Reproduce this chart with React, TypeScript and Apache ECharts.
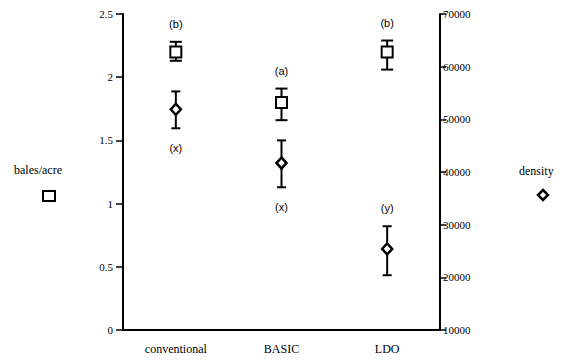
import React, { useEffect, useRef } from "react";
import * as echarts from "echarts";

const categories = ["conventional", "BASIC", "LDO"];
const yieldMean = [2.2, 1.8, 2.2];
const yieldLow = [2.13, 1.66, 2.06];
const yieldHigh = [2.28, 1.91, 2.29];
const yieldLetters = ["(b)", "(a)", "(b)"];
const densityMean = [51900, 41700, 25400];
const densityLow = [48300, 37100, 20400];
const densityHigh = [55300, 46000, 29700];
const densityLetters = ["(x)", "(x)", "(y)"];
const densityLetterAbove = [false, false, true];
const leftTicks = [0, 0.5, 1, 1.5, 2, 2.5];
const rightTicks = [10000, 20000, 30000, 40000, 50000, 60000, 70000];

const SERIF = "'Liberation Serif', 'Times New Roman', serif";
const SANS = "'Liberation Sans', Arial, sans-serif";

function errorBarSeries(low: number[], high: number[], letters: string[], above: boolean[], yAxisIndex: number, cap: number) {
  return {
    type: "custom",
    yAxisIndex,
    z: 2,
    data: low.map((l, i) => [i, l, high[i], i]),
    renderItem: (params: any, api: any) => {
      const i = api.value(3);
      const lo = api.coord([api.value(0), api.value(1)]);
      const hi = api.coord([api.value(0), api.value(2)]);
      const x = lo[0];
      const style = { stroke: "#000", lineWidth: 2 };
      const letterY = above[i] ? hi[1] - 18 : lo[1] + 20;
      return {
        type: "group",
        children: [
          { type: "line", shape: { x1: x, y1: lo[1], x2: x, y2: hi[1] }, style },
          { type: "line", shape: { x1: x - cap / 2, y1: lo[1], x2: x + cap / 2, y2: lo[1] }, style },
          { type: "line", shape: { x1: x - cap / 2, y1: hi[1], x2: x + cap / 2, y2: hi[1] }, style },
          {
            type: "text",
            x,
            y: letterY,
            style: { text: letters[i], fill: "#000", font: `11px ${SANS}`, align: "center", verticalAlign: "middle" },
          },
        ],
      };
    },
  };
}

export default function App() {
  const ref = useRef<HTMLDivElement>(null);
  useEffect(() => {
    if (!ref.current) return;
    const chart = echarts.init(ref.current, null, { renderer: "svg" });
    chart.setOption({
      animation: false,
      backgroundColor: "#fff",
      grid: { left: 123, right: 134, top: 14, bottom: 34 },
      xAxis: {
        type: "category",
        data: categories,
        boundaryGap: true,
        axisLine: { lineStyle: { color: "#000", width: 2 } },
        axisTick: { alignWithLabel: true, length: 5, lineStyle: { color: "#000", width: 1.5 } },
        axisLabel: { color: "#000", fontFamily: SERIF, fontSize: 12, margin: 13 },
      },
      yAxis: [
        {
          type: "value",
          min: 0,
          max: 2.5,
          interval: 0.5,
          position: "left",
          splitLine: { show: false },
          axisLine: { show: true, lineStyle: { color: "#000", width: 2 } },
          axisTick: { show: true, length: 7, lineStyle: { color: "#000", width: 1.5 } },
          axisLabel: {
            color: "#000",
            fontFamily: SERIF,
            fontSize: 11,
            margin: 10,
            formatter: (v: number) => (leftTicks.includes(v) ? String(v) : ""),
          },
        },
        {
          type: "value",
          min: 10000,
          max: 70000,
          interval: 10000,
          position: "right",
          splitLine: { show: false },
          axisLine: { show: true, lineStyle: { color: "#000", width: 2 } },
          axisTick: { show: true, length: 6, lineStyle: { color: "#000", width: 1.5 } },
          axisLabel: {
            color: "#000",
            fontFamily: SERIF,
            fontSize: 11,
            margin: 3,
            formatter: (v: number) => (rightTicks.includes(v) ? String(v) : ""),
          },
        },
      ],
      series: [
        errorBarSeries(yieldLow, yieldHigh, yieldLetters, [true, true, true], 0, 12),
        errorBarSeries(densityLow, densityHigh, densityLetters, densityLetterAbove, 1, 9),
        {
          type: "scatter",
          yAxisIndex: 0,
          z: 5,
          symbol: "rect",
          symbolSize: [11, 11],
          itemStyle: { color: "#fff", borderColor: "#000", borderWidth: 2, opacity: 1 },
          emphasis: { disabled: true },
          data: yieldMean.map((v, i) => [i, v]),
        },
        {
          type: "scatter",
          yAxisIndex: 1,
          z: 5,
          symbol: "diamond",
          symbolSize: [10, 11],
          itemStyle: { color: "#fff", borderColor: "#000", borderWidth: 2.5, opacity: 1 },
          emphasis: { disabled: true },
          data: densityMean.map((v, i) => [i, v]),
        },
      ],
      graphic: [
        { type: "text", left: 14, top: 164, style: { text: "bales/acre", fill: "#000", font: `12px ${SERIF}` } },
        { type: "rect", shape: { x: 43, y: 191, width: 12, height: 10 }, style: { fill: "#fff", stroke: "#000", lineWidth: 2 } },
        { type: "text", left: 519, top: 165, style: { text: "density", fill: "#000", font: `12px ${SERIF}` } },
        {
          type: "polygon",
          shape: { points: [[543, 190], [548, 195], [543, 200], [538, 195]] },
          style: { fill: "#fff", stroke: "#000", lineWidth: 2.5 },
        },
      ],
    });
    return () => chart.dispose();
  }, []);
  return <div ref={ref} style={{ width: 574, height: 364, position: "absolute", left: 0, top: 0 }} />;
}
